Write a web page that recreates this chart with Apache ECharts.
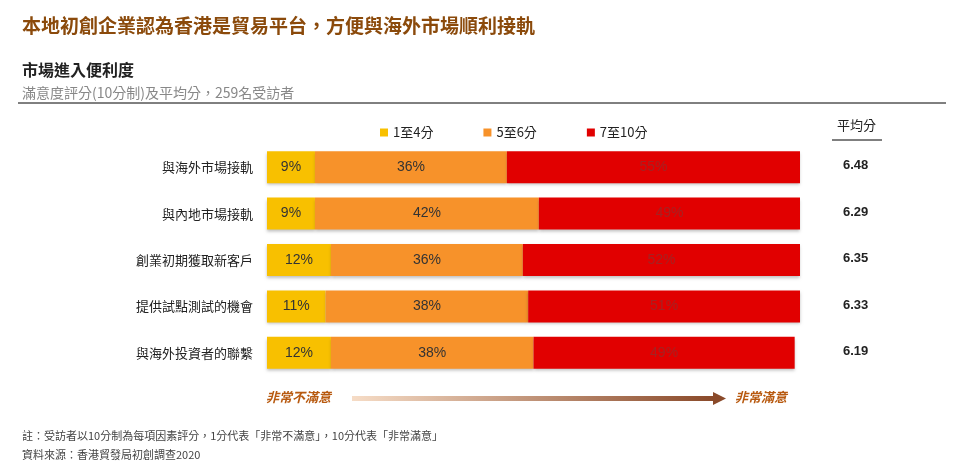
<!DOCTYPE html>
<html><head><meta charset="utf-8">
<script src="https://cdn.jsdelivr.net/npm/echarts@6/dist/echarts.min.js"></script>
<style>html,body{margin:0;background:#fff}#c{width:976px;height:475px}</style>
</head><body><div id="c"></div>
<script>
var categories = ["與海外市場接軌", "與內地市場接軌", "創業初期獲取新客戶", "提供試點測試的機會", "與海外投資者的聯繫"];
var low = [9, 9, 12, 11, 12];
var mid = [36, 42, 36, 38, 38];
var high = [55, 49, 52, 51, 49];
var avg = ["6.48", "6.29", "6.35", "6.33", "6.19"];

var chart = echarts.init(document.getElementById("c"));
var font = "'Noto Sans CJK TC', sans-serif";
function bar(name, data, color, txt) {
  return {
    name: name, type: "bar", stack: "s", data: data, barWidth: 32,
    itemStyle: { color: color, shadowColor: "rgba(0,0,0,0.25)", shadowBlur: 3, shadowOffsetY: 2 },
    label: { show: true, formatter: "{c}%", color: txt, fontSize: 14, fontFamily: "Arial" }
  };
}
var option = {
  animation: false,
  textStyle: { fontFamily: font },
  grid: { left: 267, right: 176, top: 144, bottom: 99 },
  legend: {
    top: 121, left: 375, itemWidth: 8, itemHeight: 8, itemGap: 50, icon: "rect",
    textStyle: { fontSize: 13, color: "#222" },
    data: ["1至4分", "5至6分", "7至10分"]
  },
  xAxis: { type: "value", min: 0, max: 100, show: false },
  yAxis: {
    type: "category", data: categories, inverse: true,
    axisLine: { show: false }, axisTick: { show: false },
    axisLabel: { fontSize: 13, color: "#222", margin: 14 }
  },
  series: [
    bar("1至4分", low, "#f8c000", "#333"),
    bar("5至6分", mid, "#f7922a", "#333"),
    bar("7至10分", high, "#e10000", "#a52222")
  ],
  graphic: [
    { type: "text", left: 22, top: 16, style: { text: "本地初創企業認為香港是貿易平台，方便與海外市場順利接軌", fill: "#8b4a0b", font: "bold 19px " + font } },
    { type: "text", left: 22, top: 62, style: { text: "市場進入便利度", fill: "#222", font: "bold 16px " + font } },
    { type: "text", left: 22, top: 86, style: { text: "滿意度評分(10分制)及平均分，259名受訪者", fill: "#888", font: "14px " + font } },
    { type: "line", shape: { x1: 18, y1: 103, x2: 946, y2: 103 }, style: { stroke: "#000", lineWidth: 1 } },
    { type: "text", left: 837, top: 119, style: { text: "平均分", fill: "#222", font: "13px " + font } },
    { type: "line", shape: { x1: 832, y1: 140, x2: 882, y2: 140 }, style: { stroke: "#000", lineWidth: 1 } },
    { type: "text", left: 266, top: 391, style: { text: "非常不滿意", fill: "#b85a10", font: "italic bold 13px " + font } },
    { type: "text", left: 735, top: 391, style: { text: "非常滿意", fill: "#b85a10", font: "italic bold 13px " + font } },
    { type: "rect", shape: { x: 352, y: 396, width: 362, height: 5 },
      style: { fill: new echarts.graphic.LinearGradient(0, 0, 1, 0, [{ offset: 0, color: "#f6dcc6" }, { offset: 1, color: "#8a4a2a" }]) } },
    { type: "polygon", shape: { points: [[713, 392], [726, 398.5], [713, 405]] }, style: { fill: "#8a4a2a" } },
    { type: "text", left: 22, top: 430, style: { text: "註：受訪者以10分制為每項因素評分，1分代表「非常不滿意」，10分代表「非常滿意」", fill: "#444", font: "11px " + font } },
    { type: "text", left: 22, top: 449, style: { text: "資料來源：香港貿發局初創調查2020", fill: "#444", font: "11px " + font } }
  ].concat(avg.map(function (v, i) {
    return { type: "text", left: 843, top: 159 + i * 46.5, style: { text: v, fill: "#222", font: "bold 13px Arial" } };
  }))
};
chart.setOption(option);
</script></body></html>
